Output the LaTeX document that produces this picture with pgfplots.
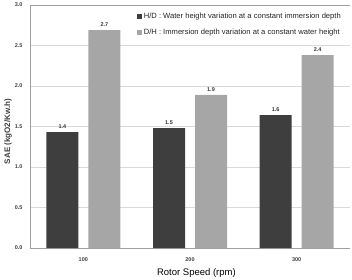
\documentclass[border=0pt]{standalone}
\usepackage{pgfplots}
\pgfplotsset{compat=1.18}
\usepackage{fontspec}
\setmainfont{Liberation Sans}
\definecolor{barDark}{HTML}{3E3E3E}
\definecolor{barLight}{HTML}{A6A6A6}
\definecolor{gridGray}{HTML}{D9D9D9}
\definecolor{axisGray}{HTML}{A0A0A0}
\begin{document}
\begin{tikzpicture}
\begin{axis}[
  scale only axis,
  width=320pt, height=243pt,
  xmin=-0.5, xmax=2.5, ymin=0, ymax=3,
  xtick={0,1,2}, xticklabels={100,200,300},
  ytick={0,0.5,1,1.5,2,2.5,3},
  yticklabel style={xshift=-4pt, /pgf/number format/fixed, /pgf/number format/fixed zerofill, /pgf/number format/precision=1},
  /pgf/number format/assume math mode=true,
  ticklabel style={font=\bfseries\fontsize{5.5}{6}\selectfont, text=black!75},
  xticklabel style={yshift=-6pt},
  major tick length=0pt,
  axis x line*=bottom, axis y line*=left,
  axis line style={draw=axisGray, -},
  ymajorgrids, grid style={draw=gridGray, line width=0.6pt},
  extra y ticks={3}, extra y tick labels={},
  extra y tick style={grid style={draw=axisGray, line width=0.6pt}},
  ybar, bar width=32pt,
  xlabel={Rotor Speed (rpm)},
  ylabel={SAE (kgO2/Kw.h)},
  xlabel style={font=\fontsize{9.5}{11}\selectfont, at={(axis description cs:0.52,0)}, anchor=base, yshift=-27pt},
  ylabel style={font=\bfseries\fontsize{8}{9}\selectfont, text=black!75, at={(axis description cs:0,0.5)}, anchor=center, yshift=22pt, xshift=-5pt},
  nodes near coords,
  nodes near coords style={font=\bfseries\fontsize{5.5}{6}\selectfont, text=black!80,
    /pgf/number format/fixed, /pgf/number format/fixed zerofill, /pgf/number format/precision=1},
  legend style={at={(1,1)}, anchor=north east, draw=none, fill=white,
    font=\fontsize{7.6}{8}\selectfont, text=black!85, row sep=4.5pt, inner sep=2pt,
    xshift=-5pt, yshift=-4pt},
  legend cell align=left,
  legend image code/.code={\fill[#1] (0pt,-2.5pt) rectangle (5pt,2.5pt);},
]
\addplot[fill=barDark, draw=none, bar shift=-21pt] coordinates {(0,1.43) (1,1.48) (2,1.64)};
\addlegendentry{H/D : Water height variation at a constant immersion depth}
\addplot[fill=barLight, draw=none, bar shift=21pt] coordinates {(0,2.69) (1,1.89) (2,2.38)};
\addlegendentry{D/H : Immersion depth variation at a constant water height}
\end{axis}
\pgfresetboundingbox
\path[use as bounding box] ([xshift=-30pt,yshift=-31pt]current axis.south west) rectangle ([xshift=2pt,yshift=5pt]current axis.north east);
\end{tikzpicture}
\end{document}
